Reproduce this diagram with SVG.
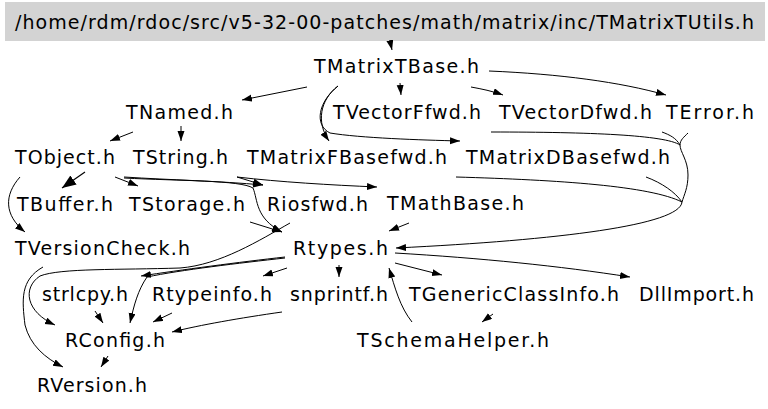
<svg xmlns="http://www.w3.org/2000/svg" width="768" height="409" viewBox="0 0 768 409">
<style>
text{font-family:"DejaVu Sans","Liberation Sans",sans-serif;font-size:19px;fill:#000}
.e{fill:none;stroke:#000;stroke-width:1;marker-end:url(#ah)}
.n{fill:none;stroke:#000;stroke-width:1}
.b{fill:none;stroke:#000;stroke-width:1.2;marker-end:url(#ahb)}
</style>
<defs>
<marker id="ah" markerUnits="userSpaceOnUse" markerWidth="11" markerHeight="8" refX="10" refY="3.5" orient="auto"><path d="M0,0 L10,3.5 L0,7 z" fill="#000"/></marker>
<marker id="ahb" markerUnits="userSpaceOnUse" markerWidth="15" markerHeight="12" refX="14" refY="5.5" orient="auto"><path d="M0,0 L14,5.5 L0,11 z" fill="#000"/></marker>
</defs>
<rect x="5" y="2" width="760" height="39" fill="#d3d3d3"/>
<g id="connectors">
<path class="e" d="M390,41 L392,50"/>
<path class="e" d="M307,87 L242,100"/>
<path class="e" d="M400,83 L401,95"/>
<path class="e" d="M471,87 C482,89 492,91 503,95"/>
<path class="e" d="M489,71 C560,74 620,82 666,95"/>
<path class="e" d="M338,86 C320,100 316,122 329,141"/>
<path class="e" d="M338,86 C318,102 314,125 330,133 C360,138 420,140 460,141"/>
<path class="e" d="M133,132 L110,141"/>
<path class="e" d="M181,126 L181,141"/>
<path class="b" d="M85,172 L62,188"/>
<path class="e" d="M20,177 C4,195 4,215 25,232"/>
<path class="e" d="M115,177 L138,186"/>
<path class="e" d="M124,177 C170,180 220,181 263,185"/>
<path class="e" d="M124,178 C180,181 240,180 253,188 C258,200 255,218 282,232"/>
<path class="e" d="M237,177 L263,185"/>
<path class="e" d="M237,177 C280,182 330,185 377,187"/>
<path class="e" d="M250,222 L282,232"/>
<path class="e" d="M409,223 L389,231"/>
<path class="e" d="M688,133 C684,137 680,140 680,145 C680,152 688,160 688,175 C688,188 684,195 682,202 C680,225 560,240 396,248"/>
<path class="n" d="M491,132 C590,132 665,135 680,145"/>
<path class="n" d="M662,132 C670,135 676,138 680,145"/>
<path class="n" d="M456,177 C560,180 650,186 682,202"/>
<path class="n" d="M646,177 C662,183 675,192 682,202"/>
<path class="e" d="M290,223 C260,240 220,265 180,268 C120,270 60,268 40,276 C22,288 26,312 55,325"/>
<path class="e" d="M43,267 C20,280 22,300 25,325 C30,345 45,358 63,367"/>
<path class="e" d="M285,257 C240,262 180,270 141,276"/>
<path class="e" d="M285,258 C240,263 180,270 147,277 C138,290 134,305 130,323"/>
<path class="e" d="M287,268 L263,276"/>
<path class="e" d="M339,265 L339,277"/>
<path class="e" d="M395,263 L442,275"/>
<path class="e" d="M395,253 C480,258 560,266 630,277"/>
<path class="e" d="M412,322 C400,307 395,288 389,268"/>
<path class="e" d="M493,314 L482,322"/>
<path class="e" d="M95,311 L103,323"/>
<path class="e" d="M172,313 L153,322"/>
<path class="e" d="M282,312 C240,318 200,325 172,332"/>
<path class="e" d="M108,356 L101,367"/>
</g>
<g id="TMatrixTUtils"><text x="15" y="29" textLength="739" lengthAdjust="spacing">/home/rdm/rdoc/src/v5-32-00-patches/math/matrix/inc/TMatrixTUtils.h</text></g>
<g id="TMatrixTBase"><text x="314" y="73" textLength="165" lengthAdjust="spacing">TMatrixTBase.h</text></g>
<g id="TNamed"><text x="126" y="119" textLength="107" lengthAdjust="spacing">TNamed.h</text></g>
<g id="TVectorFfwd"><text x="333" y="119" textLength="148" lengthAdjust="spacing">TVectorFfwd.h</text></g>
<g id="TVectorDfwd"><text x="499" y="119" textLength="153" lengthAdjust="spacing">TVectorDfwd.h</text></g>
<g id="TError"><text x="666" y="119" textLength="88" lengthAdjust="spacing">TError.h</text></g>
<g id="TObject"><text x="15" y="164" textLength="100" lengthAdjust="spacing">TObject.h</text></g>
<g id="TString"><text x="133" y="164" textLength="95" lengthAdjust="spacing">TString.h</text></g>
<g id="TMatrixFBasefwd"><text x="247" y="164" textLength="200" lengthAdjust="spacing">TMatrixFBasefwd.h</text></g>
<g id="TMatrixDBasefwd"><text x="466" y="164" textLength="204" lengthAdjust="spacing">TMatrixDBasefwd.h</text></g>
<g id="TBuffer"><text x="17" y="211" textLength="96" lengthAdjust="spacing">TBuffer.h</text></g>
<g id="TStorage"><text x="129" y="211" textLength="116" lengthAdjust="spacing">TStorage.h</text></g>
<g id="Riosfwd"><text x="267" y="211" textLength="101" lengthAdjust="spacing">Riosfwd.h</text></g>
<g id="TMathBase"><text x="387" y="210" textLength="137" lengthAdjust="spacing">TMathBase.h</text></g>
<g id="TVersionCheck"><text x="15" y="255" textLength="175" lengthAdjust="spacing">TVersionCheck.h</text></g>
<g id="Rtypes"><text x="293" y="255" textLength="95" lengthAdjust="spacing">Rtypes.h</text></g>
<g id="strlcpy"><text x="42" y="301" textLength="86" lengthAdjust="spacing">strlcpy.h</text></g>
<g id="Rtypeinfo"><text x="152" y="301" textLength="120" lengthAdjust="spacing">Rtypeinfo.h</text></g>
<g id="snprintf"><text x="290" y="301" textLength="98" lengthAdjust="spacing">snprintf.h</text></g>
<g id="TGenericClassInfo"><text x="409" y="301" textLength="210" lengthAdjust="spacing">TGenericClassInfo.h</text></g>
<g id="DllImport"><text x="639" y="301" textLength="115" lengthAdjust="spacing">DllImport.h</text></g>
<g id="RConfig"><text x="65" y="347" textLength="100" lengthAdjust="spacing">RConfig.h</text></g>
<g id="TSchemaHelper"><text x="357" y="347" textLength="192" lengthAdjust="spacing">TSchemaHelper.h</text></g>
<g id="RVersion"><text x="37" y="392" textLength="110" lengthAdjust="spacing">RVersion.h</text></g>
</svg>
